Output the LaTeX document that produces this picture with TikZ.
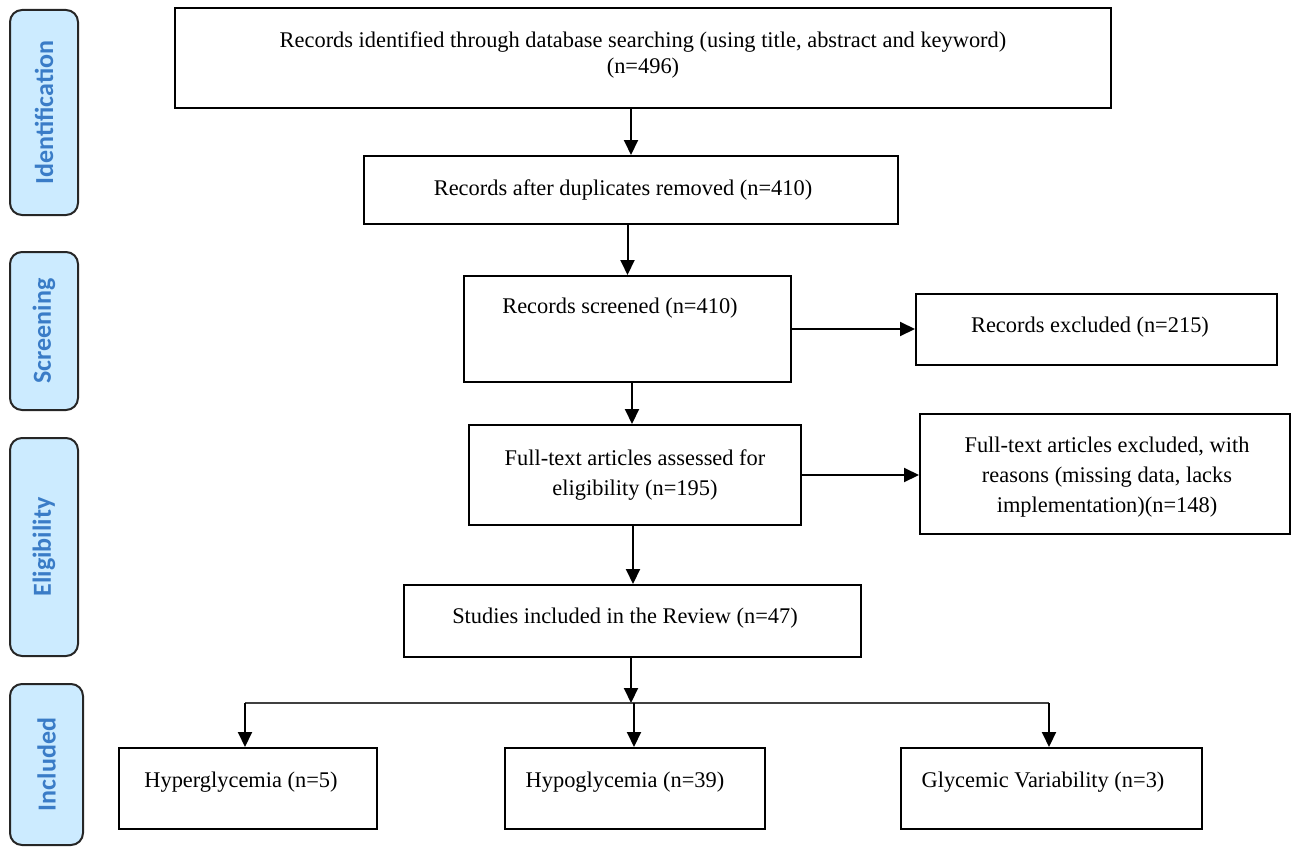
\documentclass[tikz,border=0pt]{standalone}
\usepackage{fontspec}
\setmainfont{Liberation Serif}
\newfontfamily\sidefont{Carlito}
\usetikzlibrary{arrows.meta}
\definecolor{sidefill}{HTML}{CCEBFF}
\definecolor{sidetext}{HTML}{3A7CC7}
\begin{document}
\begin{tikzpicture}[x=1pt,y=-1pt,
  box/.style={draw=black,line width=2pt,rectangle,inner sep=0pt},
  txt/.style={font=\fontsize{22.4}{30}\selectfont,align=center,inner sep=0pt},
  side/.style={draw=black!85,line width=2pt,rounded corners=12pt,fill=sidefill,inner sep=0pt},
  sidelbl/.style={font=\sidefont\bfseries\fontsize{26}{28}\selectfont,text=sidetext,rotate=90,inner sep=0pt},
  arr/.style={line width=2pt,-{Triangle[length=15pt,width=14pt]}},
  hline/.style={line width=1.6pt,draw=black!75}]
\useasboundingbox (0,0) rectangle (1292,848);
% side labels
\node[side,minimum width=68pt,minimum height=205pt] (s1) at (44,112.5) {};
\node[sidelbl] (l1) at (s1) {Identification};
\node[side,minimum width=68pt,minimum height=158pt] (s2) at (44,331) {};
\node[sidelbl] (l2) at (s2) {Screening};
\node[side,minimum width=68pt,minimum height=218pt] (s3) at (44,547) {};
\node[sidelbl] (l3) at (s3) {Eligibility};
\node[side,minimum width=73pt,minimum height=161pt] (s4) at (46.5,764.5) {};
\node[sidelbl] (l4) at (s4) {Included};
% boxes
\node[box,minimum width=936pt,minimum height=100pt] (b1) at (643,58) {};
\node[txt,font=\fontsize{22.4}{26}\selectfont] (t1) at (643,55) {Records identified through database searching (using title, abstract and keyword)\\(n=496)};
\node[box,minimum width=534pt,minimum height=68pt] (b2) at (631,190) {};
\node[txt] (t2) at (623,190) {Records after duplicates removed (n=410)};
\node[box,minimum width=327pt,minimum height=106pt] (b3) at (627.5,329) {};
\node[txt] (t3) at (620,308) {Records screened (n=410)};
\node[box,minimum width=332pt,minimum height=100pt] (b4) at (635,475) {};
\node[txt] (t4) at (635,475) {Full-text articles assessed for\\eligibility (n=195)};
\node[box,minimum width=361pt,minimum height=71pt] (b5) at (1096.5,329.5) {};
\node[txt] (t5) at (1090,327) {Records excluded (n=215)};
\node[box,minimum width=370pt,minimum height=120pt] (b6) at (1105,474) {};
\node[txt] (t6) at (1107,477) {Full-text articles excluded, with\\reasons (missing data, lacks\\implementation)(n=148)};
\node[box,minimum width=457pt,minimum height=72pt] (b7) at (632.5,621) {};
\node[txt] (t7) at (625,618) {Studies included in the Review (n=47)};
\node[box,minimum width=258pt,minimum height=81pt] (b8) at (248,788.5) {};
\node[txt] (t8) at (241,782) {Hyperglycemia (n=5)};
\node[box,minimum width=260pt,minimum height=81pt] (b9) at (635,788.5) {};
\node[txt] (t9) at (625,782) {Hypoglycemia (n=39)};
\node[box,minimum width=301pt,minimum height=81pt] (b10) at (1051.5,788.5) {};
\node[txt] (t10) at (1043,782) {Glycemic Variability (n=3)};
% connectors
\coordinate (j) at (631,703);
\coordinate (jl) at (245,703);
\coordinate (jm) at (634,703);
\coordinate (jr) at (1049,703);
\draw[arr] (b2.north |- b1.south) -- (b2.north);
\draw[arr] (b3.north |- b2.south) -- (b3.north |- b3.north);
\draw[arr] ([xshift=4.5pt]b3.south) -- ([xshift=4.5pt]b3.south |- b4.north);
\draw[arr] ([xshift=-2pt]b4.south) -- ([xshift=-2pt]b4.south |- b7.north);
\draw[arr] (b3.east) -- (b3.east -| b5.west);
\draw[arr] (b4.east) -- (b4.east -| b6.west);
\draw[arr] (j |- b7.south) -- (j);
\draw[hline] (jl) -- (jr);
\draw[arr] (jl) -- (jl |- b8.north);
\draw[arr] (jm) -- (jm |- b9.north);
\draw[arr] (jr) -- (jr |- b10.north);
\end{tikzpicture}
\end{document}
